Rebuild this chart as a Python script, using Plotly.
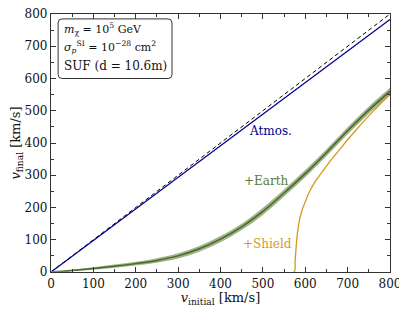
import plotly.graph_objects as go

# ---- data ----
v_ref = [0, 800]
y_ref = [0, 800]

v_atmos = [0, 800]
y_atmos = [0, 783]

v_earth = [0, 50, 100, 150, 200, 250, 300, 350, 400, 450, 500, 550, 600, 650, 700, 750, 800]
y_earth = [0, 5, 11, 18, 26, 36, 50, 72, 102, 140, 188, 245, 305, 370, 438, 502, 560]
earth_err = [0, 2, 4, 5, 6, 7, 8, 9, 10, 10, 11, 11, 11, 11, 11, 11, 11]

v_shield = [0, 574, 576, 578, 582, 587, 592, 600, 611, 625, 642, 660, 682, 700, 721, 740, 760, 780, 800]
y_shield = [0, 0, 30, 70, 125, 165, 190, 218, 252, 283, 314, 346, 381, 410, 442, 470, 498, 525, 550]

x_ticks = [0, 100, 200, 300, 400, 500, 600, 700, 800]
y_ticks = [0, 100, 200, 300, 400, 500, 600, 700, 800]

FONT = "DejaVu Serif"
fig = go.Figure()

# green band
upper = [y + e for y, e in zip(y_earth, earth_err)]
lower = [max(y - e, 0) for y, e in zip(y_earth, earth_err)]
fig.add_trace(go.Scatter(x=v_earth, y=lower, mode="lines", line=dict(width=0, shape="spline"),
                         hoverinfo="skip", showlegend=False))
fig.add_trace(go.Scatter(x=v_earth, y=upper, mode="lines", line=dict(width=0, shape="spline"),
                         fill="tonexty", fillcolor="rgba(125,155,95,0.75)",
                         hoverinfo="skip", showlegend=False))
fig.add_trace(go.Scatter(x=v_earth, y=y_earth, mode="lines",
                         line=dict(color="#4a6628", width=1.5, shape="spline"), showlegend=False))

fig.add_trace(go.Scatter(x=v_ref, y=y_ref, mode="lines",
                         line=dict(color="black", width=1, dash="4px,3px"), showlegend=False))
fig.add_trace(go.Scatter(x=v_atmos, y=y_atmos, mode="lines",
                         line=dict(color="#00008b", width=1.3), showlegend=False))
fig.add_trace(go.Scatter(x=v_shield, y=y_shield, mode="lines",
                         line=dict(color="#d49a1c", width=1.3, shape="spline", smoothing=0.6),
                         showlegend=False))

axis_common = dict(range=[0, 800], showgrid=False, zeroline=False, showline=True,
                   linecolor="#333", linewidth=1.2, mirror="ticks", ticks="inside",
                   ticklen=5, tickwidth=1, tickcolor="#333", automargin=False,
                   ticklabeloverflow="allow",
                   minor=dict(ticks="inside", dtick=50, ticklen=3, tickcolor="#333"),
                   tickfont=dict(family=FONT, size=12, color="#111"))
fig.update_xaxes(**axis_common, tickvals=x_ticks,
                 title=dict(text="<i>v</i><sub>initial</sub> [km/s]",
                            font=dict(family=FONT, size=13, color="#111"), standoff=2))
fig.update_yaxes(**axis_common, tickvals=y_ticks,
                 title=dict(text="<i>v</i><sub>final</sub> [km/s]",
                            font=dict(family=FONT, size=13, color="#111"), standoff=2))

# curve labels
fig.add_annotation(x=517, y=437, text="Atmos.", showarrow=False,
                   font=dict(family=FONT, size=12, color="#00008b"))
fig.add_annotation(x=509, y=283, text="+Earth", showarrow=False,
                   font=dict(family=FONT, size=12, color="#5a7a3a"))
fig.add_annotation(x=512, y=86, text="+Shield", showarrow=False,
                   font=dict(family=FONT, size=12, color="#d49a1c"))

# rounded info box
W, H = 339.0, 258.0
x0, x1, y0, y1 = 0.021, 0.357, 0.75, 0.981
rx, ry = 4 / W, 4 / H
path = (f"M {x0+rx},{y1} L {x1-rx},{y1} Q {x1},{y1} {x1},{y1-ry} "
        f"L {x1},{y0+ry} Q {x1},{y0} {x1-rx},{y0} L {x0+rx},{y0} "
        f"Q {x0},{y0} {x0},{y0+ry} L {x0},{y1-ry} Q {x0},{y1} {x0+rx},{y1} Z")
fig.add_shape(type="path", path=path, xref="paper", yref="paper",
              line=dict(color="#333", width=1), fillcolor="white")

box_lines = ["<i>m</i><sub>χ</sub> = 10<sup>5</sup> GeV",
             "<i>σ</i><sub><i>p</i></sub><sup>SI</sup> = 10<sup>−28</sup> cm<sup>2</sup>",
             "SUF (d = 10.6m)"]
box_y = [0.94, 0.873, 0.800]
box_size = [11, 11, 12]
for t, yy, s in zip(box_lines, box_y, box_size):
    fig.add_annotation(x=0.033, y=yy, xref="paper", yref="paper", text=t, showarrow=False,
                       xanchor="left", yanchor="middle",
                       font=dict(family=FONT, size=s, color="#111"))

# page body has an 8px default margin, so the figure is sized/margined to compensate
fig.update_layout(width=399, height=305, margin=dict(l=43, r=17, t=6, b=41),
                  plot_bgcolor="white", paper_bgcolor="white")
fig.write_html("out.html")
